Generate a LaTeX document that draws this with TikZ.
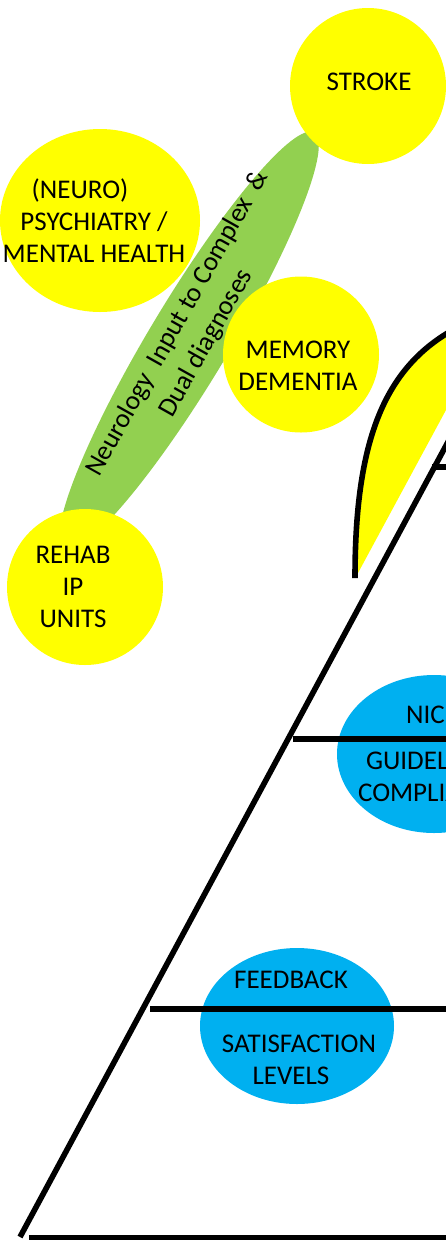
\documentclass[tikz,border=0pt]{standalone}
\usepackage{fontspec}
\setmainfont{Carlito}
\usetikzlibrary{shapes.geometric}
\definecolor{ylw}{HTML}{FFFF00}
\definecolor{grn}{HTML}{92D050}
\definecolor{blu}{HTML}{00B0F0}
\begin{document}
\begin{tikzpicture}[x=1pt,y=-1pt,
  txt/.style={font=\fontsize{27}{32}\selectfont, align=center, inner sep=0pt},
  blob/.style={ellipse, inner sep=0pt, draw=none},
  heavy/.style={line width=5.6pt, line cap=butt}]
\useasboundingbox (0,0) rectangle (446,1240);
\fill[white] (0,0) rectangle (446,1240);
\clip (0,0) rectangle (446,1240);

% green band
\node[blob, fill=grn, minimum width=486pt, minimum height=80pt, rotate=59] (band) at (189,341) {};

% yellow circles
\node[blob, fill=ylw, minimum width=156pt, minimum height=156pt] (stroke) at (368,86) {};
\node[blob, fill=ylw, minimum width=200pt, minimum height=183pt] (psych) at (100,220.5) {};
\node[blob, fill=ylw, minimum width=156pt, minimum height=156pt] (memory) at (301,354.5) {};
\node[blob, fill=ylw, minimum width=156pt, minimum height=156pt] (rehab) at (85,587) {};

% leaf
\coordinate (lfA) at (355,578);
\coordinate (lfB) at (446,334);
\coordinate (lfC) at (480,313);
\coordinate (lfD) at (480,347);
\coordinate (lfE) at (358,573);
\fill[ylw] (lfA) .. controls (355,450) and (380,375) .. (lfB) -- (lfC) -- (lfD) -- (lfE) -- cycle;
\draw[heavy] (lfA) .. controls (355,450) and (380,375) .. (lfB) -- (lfC);

% blue ellipses
\node[blob, fill=blu, minimum width=194pt, minimum height=158pt] (nice) at (434,754) {};
\node[blob, fill=blu, minimum width=194pt, minimum height=156pt] (fb) at (297,1026) {};

% pyramid lines
\coordinate (pB) at (20,1237);
\coordinate (pT) at (470,401);
\draw[heavy] (pB) -- (pT);
\coordinate (h1a) at (432,467);   \coordinate (h1b) at (452,467);
\coordinate (h2a) at (293,739);   \coordinate (h2b) at (452,739);
\coordinate (h3a) at (150,1009);  \coordinate (h3b) at (452,1009);
\coordinate (h4a) at (29,1237.5); \coordinate (h4b) at (452,1237.5);
\draw[heavy] (h1a) -- (h1b);
\draw[heavy] (h2a) -- (h2b);
\draw[heavy] (h3a) -- (h3b);
\draw[heavy] (h4a) -- (h4b);

% texts
\node[txt, rotate=60.7, anchor=base west] (tBand1) at (99,478) {Neurology~~Input to Complex~~\&};
\node[txt, rotate=60.7, anchor=base west] (tBand2) at (172,419) {Dual diagnoses};
\node[txt, anchor=base] (tStroke) at (369,90) {STROKE};
\node[txt] (tPsych) at (94,223.6) {\strut\mbox{(NEURO)\hspace{28pt}}\\PSYCHIATRY /\\MENTAL HEALTH\strut};
\node[txt] (tMem) at (298,368) {\strut MEMORY\\DEMENTIA\strut};
\node[txt] (tRehab) at (73,588.6) {\strut REHAB\\IP\\UNITS\strut};
\node[txt] (tNice) at (432,755.6) {\strut NICE\\[14pt]GUIDELINES\\COMPLIANCE\strut};
\node[txt] (tFb) at (291,1029.6) {\strut FEEDBACK\\[32pt]\mbox{\hspace{16pt}SATISFACTION}\\LEVELS\strut};
\end{tikzpicture}
\end{document}
